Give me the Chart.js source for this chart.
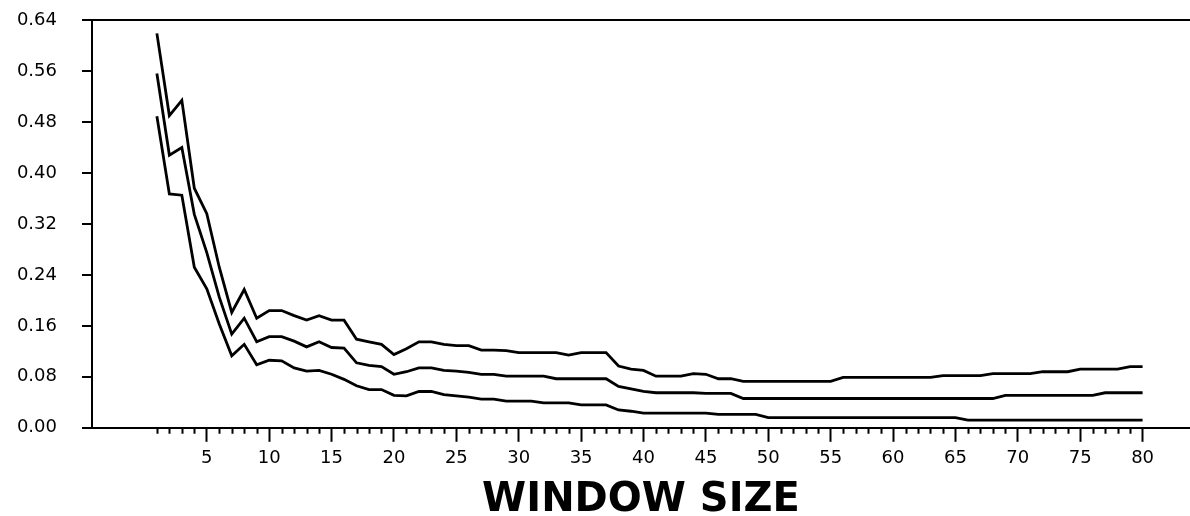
<!DOCTYPE html>
<html>
<head>
<meta charset="utf-8">
<script src="https://cdn.jsdelivr.net/npm/chart.js@4/dist/chart.umd.min.js"></script>
<style>
  html, body { margin: 0; padding: 0; background: #fff; }
  #wrap { width: 1190px; height: 516px; position: relative; }
</style>
</head>
<body>
<div id="wrap"><canvas id="windowChart"></canvas></div>
<script>
// window sizes 1..80 on the x axis
const windowSizes = Array.from({ length: 80 }, (_, i) => i + 1);
const xTickLabels = [5, 10, 15, 20, 25, 30, 35, 40, 45, 50, 55, 60, 65, 70, 75, 80];
const yTickLabels = [0, 0.08, 0.16, 0.24, 0.32, 0.40, 0.48, 0.56, 0.64];

const upperBand = [
    0.619, 0.490, 0.514, 0.376, 0.336, 0.252, 0.181, 0.217, 0.172, 0.184,
    0.184, 0.176, 0.169, 0.176, 0.169, 0.169, 0.139, 0.135, 0.131, 0.115,
    0.124, 0.135, 0.135, 0.131, 0.129, 0.129, 0.122, 0.122, 0.121, 0.118,
    0.118, 0.118, 0.118, 0.114, 0.118, 0.118, 0.118, 0.097, 0.092, 0.090,
    0.081, 0.081, 0.081, 0.085, 0.084, 0.077, 0.077, 0.073, 0.073, 0.073,
    0.073, 0.073, 0.073, 0.073, 0.073, 0.079, 0.079, 0.079, 0.079, 0.079,
    0.079, 0.079, 0.079, 0.082, 0.082, 0.082, 0.082, 0.085, 0.085, 0.085,
    0.085, 0.088, 0.088, 0.088, 0.092, 0.092, 0.092, 0.092, 0.096, 0.096
];
const middleLine = [
    0.556, 0.428, 0.440, 0.335, 0.275, 0.205, 0.147, 0.172, 0.135, 0.143,
    0.143, 0.136, 0.127, 0.135, 0.126, 0.125, 0.102, 0.098, 0.096, 0.084,
    0.088, 0.094, 0.094, 0.090, 0.089, 0.087, 0.084, 0.084, 0.081, 0.081,
    0.081, 0.081, 0.077, 0.077, 0.077, 0.077, 0.077, 0.065, 0.061, 0.057,
    0.055, 0.055, 0.055, 0.055, 0.054, 0.054, 0.054, 0.046, 0.046, 0.046,
    0.046, 0.046, 0.046, 0.046, 0.046, 0.046, 0.046, 0.046, 0.046, 0.046,
    0.046, 0.046, 0.046, 0.046, 0.046, 0.046, 0.046, 0.046, 0.051, 0.051,
    0.051, 0.051, 0.051, 0.051, 0.051, 0.051, 0.055, 0.055, 0.055, 0.055
];
const lowerBand = [
    0.489, 0.367, 0.365, 0.252, 0.218, 0.163, 0.113, 0.131, 0.099, 0.106,
    0.105, 0.094, 0.089, 0.090, 0.084, 0.076, 0.066, 0.060, 0.060, 0.051,
    0.050, 0.057, 0.057, 0.052, 0.050, 0.048, 0.045, 0.045, 0.042, 0.042,
    0.042, 0.039, 0.039, 0.039, 0.036, 0.036, 0.036, 0.028, 0.026, 0.023,
    0.023, 0.023, 0.023, 0.023, 0.023, 0.021, 0.021, 0.021, 0.021, 0.016,
    0.016, 0.016, 0.016, 0.016, 0.016, 0.016, 0.016, 0.016, 0.016, 0.016,
    0.016, 0.016, 0.016, 0.016, 0.016, 0.012, 0.012, 0.012, 0.012, 0.012,
    0.012, 0.012, 0.012, 0.012, 0.012, 0.012, 0.012, 0.012, 0.012, 0.012
];

function toPoints(values) {
    return values.map((v, i) => ({ x: windowSizes[i], y: v }));
}

function lineSet(label, values) {
    return {
        label: label,
        data: toPoints(values),
        borderColor: '#000',
        borderWidth: 2.8,
        pointRadius: 0,
        tension: 0,
        fill: false
    };
}

// short ticks for every window size between the labelled ones
const minorTicks = {
    id: 'minorTicks',
    afterDraw(chart) {
        const xs = chart.scales.x;
        const ctx = chart.ctx;
        ctx.save();
        ctx.strokeStyle = '#000';
        ctx.lineWidth = 2;
        ctx.beginPath();
        windowSizes.forEach(v => {
            if (v % 5 === 0) return;
            const px = Math.round(xs.getPixelForValue(v)) + 0.5;
            ctx.moveTo(px, xs.top);
            ctx.lineTo(px, xs.top + 6);
        });
        ctx.stroke();
        ctx.restore();
    }
};

const tickFont = { family: 'DejaVu Sans', size: 18 };

new Chart(document.getElementById('windowChart'), {
    type: 'line',
    data: {
        datasets: [
            lineSet('upper', upperBand),
            lineSet('mean', middleLine),
            lineSet('lower', lowerBand)
        ]
    },
    options: {
        responsive: true,
        maintainAspectRatio: false,
        animation: false,
        events: [],
        layout: { padding: { top: 20, right: 0, left: 0, bottom: 0 } },
        plugins: {
            legend: { display: false },
            tooltip: { enabled: false }
        },
        scales: {
            x: {
                type: 'linear',
                min: -4.2,
                max: 83.8,
                afterBuildTicks: scale => {
                    scale.ticks = xTickLabels.map(v => ({ value: v }));
                },
                ticks: {
                    autoSkip: false,
                    maxRotation: 0,
                    color: '#000',
                    font: tickFont,
                    padding: 6
                },
                grid: {
                    drawOnChartArea: false,
                    drawTicks: true,
                    tickLength: 14,
                    tickColor: '#000',
                    tickWidth: 2
                },
                border: { display: true, color: '#000', width: 2 },
                title: {
                    display: true,
                    text: 'WINDOW SIZE',
                    color: '#000',
                    font: { family: 'DejaVu Sans', size: 40, weight: 'bold', lineHeight: 0.75 },
                    padding: { top: 10.6, bottom: 0 }
                }
            },
            y: {
                min: 0,
                max: 0.64,
                afterBuildTicks: scale => {
                    scale.ticks = yTickLabels.map(v => ({ value: v }));
                },
                afterFit: scale => {
                    scale.width = 92;
                    scale.paddingTop = 0;
                    scale.paddingBottom = 0;
                },
                ticks: {
                    color: '#000',
                    font: tickFont,
                    padding: 25,
                    callback: v => Number(v).toFixed(2)
                },
                grid: {
                    drawOnChartArea: true,
                    tickLength: 10,
                    lineWidth: 2,
                    tickWidth: 2,
                    tickColor: '#000',
                    color: c => (c.tick && Math.abs(c.tick.value - 0.64) < 1e-9) ? '#000' : 'rgba(0,0,0,0)'
                },
                border: { display: true, color: '#000', width: 2 }
            }
        }
    },
    plugins: [minorTicks]
});
</script>
</body>
</html>
